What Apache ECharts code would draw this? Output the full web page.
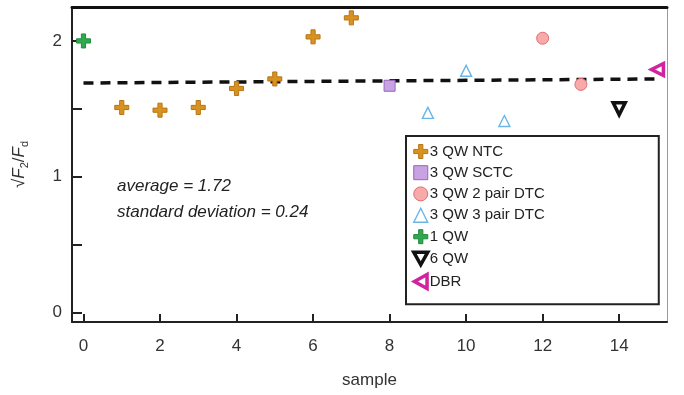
<!DOCTYPE html>
<html>
<head>
<meta charset="utf-8">
<script src="https://cdn.jsdelivr.net/npm/echarts@6/dist/echarts.min.js"></script>
<style>
  html, body { margin: 0; padding: 0; background: #fff; }
  #chart { width: 684px; height: 395px; }
</style>
</head>
<body>
<div id="chart"></div>
<script>
// data: [sample, sqrt(F2/Fd)]
var ntc3 = [[1, 1.51], [2, 1.49], [3, 1.51], [4, 1.65], [5, 1.72], [6, 2.03], [7, 2.17]];
var sctc3 = [[8, 1.67]];
var dtc2pair = [[12, 2.02], [13, 1.68]];
var dtc3pair = [[9, 1.47], [10, 1.78], [11, 1.41]];
var qw1 = [[0, 2.0]];
var qw6 = [[14, 1.50]];
var dbr = [[15, 1.79]];
var avgLine = [[0, 1.69], [15, 1.72]];

var xTicks = [0, 2, 4, 6, 8, 10, 12, 14];
var yTicks = [0, 0.5, 1, 1.5, 2];
var yLabels = [0, 1, 2];

var FONT = 'Liberation Sans, Arial, sans-serif';
var plus = 'path://M3.5,0H6.5V3.5H10V6.5H6.5V10H3.5V6.5H0V3.5H3.5Z';
var triDown = 'path://M0,0L10,0L5,9Z';
var triLeft = 'path://M0,5L9,0L9,10Z';

var styles = {
  ntc: { color: '#D8921F', borderColor: '#B87514', borderWidth: 1, opacity: 1 },
  sctc: { color: '#C8A2E2', borderColor: '#9466BC', borderWidth: 1, opacity: 1 },
  dtc2: { color: '#F8A9AA', borderColor: '#DD6F72', borderWidth: 1, opacity: 1 },
  dtc3: { color: '#ffffff', borderColor: '#6CB6E6', borderWidth: 1.4, opacity: 1 },
  qw1: { color: '#2FA84F', borderColor: '#1E8C3C', borderWidth: 1, opacity: 1 },
  qw6: { color: '#ffffff', borderColor: '#111111', borderWidth: 3.5, opacity: 1 },
  dbr: { color: '#ffffff', borderColor: '#D0239E', borderWidth: 3.5, opacity: 1 }
};

var chart = echarts.init(document.getElementById('chart'));

chart.setOption({
  animation: false,
  textStyle: { fontFamily: FONT },
  grid: { left: 72, right: 17, top: 7, bottom: 73 },
  legend: {
    orient: 'vertical',
    left: 406,
    top: 136,
    padding: [8, 114, 14, 6],
    itemGap: 6.2,
    itemWidth: 14,
    itemHeight: 14,
    borderColor: '#222',
    borderWidth: 2,
    backgroundColor: '#fff',
    textStyle: { fontSize: 15, color: '#222', lineHeight: 14, padding: [0, 0, 0, -3] },
    data: [
      { name: '3 QW NTC', icon: plus, itemStyle: styles.ntc },
      { name: '3 QW SCTC', icon: 'rect', itemStyle: styles.sctc },
      { name: '3 QW 2 pair DTC', icon: 'circle', itemStyle: styles.dtc2 },
      { name: '3 QW 3 pair DTC', icon: 'triangle', itemStyle: styles.dtc3 },
      { name: '1 QW', icon: plus, itemStyle: styles.qw1 },
      { name: '6 QW', icon: triDown, itemStyle: styles.qw6 },
      { name: 'DBR', icon: triLeft, itemStyle: styles.dbr }
    ]
  },
  xAxis: [{
    type: 'value',
    min: -0.3,
    max: 15.25,
    name: 'sample',
    nameLocation: 'middle',
    nameGap: 50,
    nameTextStyle: { fontSize: 17, color: '#333' },
    axisLine: { onZero: false, lineStyle: { color: '#222', width: 2 } },
    axisTick: { inside: true, length: 8, customValues: xTicks, lineStyle: { color: '#222', width: 2 } },
    axisLabel: { customValues: xTicks, fontSize: 17, color: '#333', margin: 16 },
    splitLine: { show: false }
  }, {
    type: 'value',
    position: 'top',
    min: -0.3,
    max: 15.25,
    axisLine: { show: true, onZero: false, lineStyle: { color: '#111', width: 3 } },
    axisTick: { show: false },
    axisLabel: { show: false },
    splitLine: { show: false }
  }],
  yAxis: [{
    type: 'value',
    min: -0.07,
    max: 2.25,
    name: '{r|√}{i|F}{s|2}{r|/}{i|F}{s|d}',
    nameLocation: 'middle',
    nameGap: 42,
    nameRotate: 90,
    nameTextStyle: {
      rich: {
        r: { fontSize: 17, color: '#333', fontFamily: FONT },
        i: { fontSize: 17, color: '#333', fontStyle: 'italic', fontFamily: FONT },
        s: { fontSize: 11, color: '#333', fontFamily: FONT, verticalAlign: 'bottom', padding: [10, 0, 0, 0] }
      }
    },
    axisLine: { onZero: false, lineStyle: { color: '#222', width: 2 } },
    axisTick: { inside: true, length: 10, customValues: yTicks, lineStyle: { color: '#222', width: 2 } },
    axisLabel: { customValues: yLabels, fontSize: 17, color: '#333', margin: 10 },
    splitLine: { show: false }
  }, {
    type: 'value',
    position: 'right',
    min: -0.07,
    max: 2.25,
    axisLine: { show: true, onZero: false, lineStyle: { color: '#999', width: 1 } },
    axisTick: { show: false },
    axisLabel: { show: false },
    splitLine: { show: false }
  }],
  graphic: [{
    type: 'text',
    left: 117,
    top: 178,
    style: { text: 'average = 1.72', font: 'italic 17px ' + FONT, fill: '#222' }
  }, {
    type: 'text',
    left: 117,
    top: 204,
    style: { text: 'standard deviation = 0.24', font: 'italic 17px ' + FONT, fill: '#222' }
  }],
  series: [{
    name: 'average',
    type: 'line',
    data: avgLine,
    symbol: 'none',
    lineStyle: { color: '#111', width: 3.5, type: [10, 7] },
    z: 1
  }, {
    name: '3 QW NTC',
    type: 'scatter',
    data: ntc3,
    symbol: plus,
    symbolSize: 14,
    itemStyle: styles.ntc
  }, {
    name: '3 QW SCTC',
    type: 'scatter',
    data: sctc3,
    symbol: 'rect',
    symbolSize: 11,
    itemStyle: styles.sctc
  }, {
    name: '3 QW 2 pair DTC',
    type: 'scatter',
    data: dtc2pair,
    symbol: 'circle',
    symbolSize: 12,
    itemStyle: styles.dtc2
  }, {
    name: '3 QW 3 pair DTC',
    type: 'scatter',
    data: dtc3pair,
    symbol: 'triangle',
    symbolSize: 11,
    itemStyle: styles.dtc3
  }, {
    name: '1 QW',
    type: 'scatter',
    data: qw1,
    symbol: plus,
    symbolSize: 14,
    itemStyle: styles.qw1
  }, {
    name: '6 QW',
    type: 'scatter',
    data: qw6,
    symbol: triDown,
    symbolSize: 12,
    itemStyle: styles.qw6
  }, {
    name: 'DBR',
    type: 'scatter',
    data: dbr,
    symbol: triLeft,
    symbolSize: 12,
    itemStyle: styles.dbr
  }]
});
</script>
</body>
</html>
